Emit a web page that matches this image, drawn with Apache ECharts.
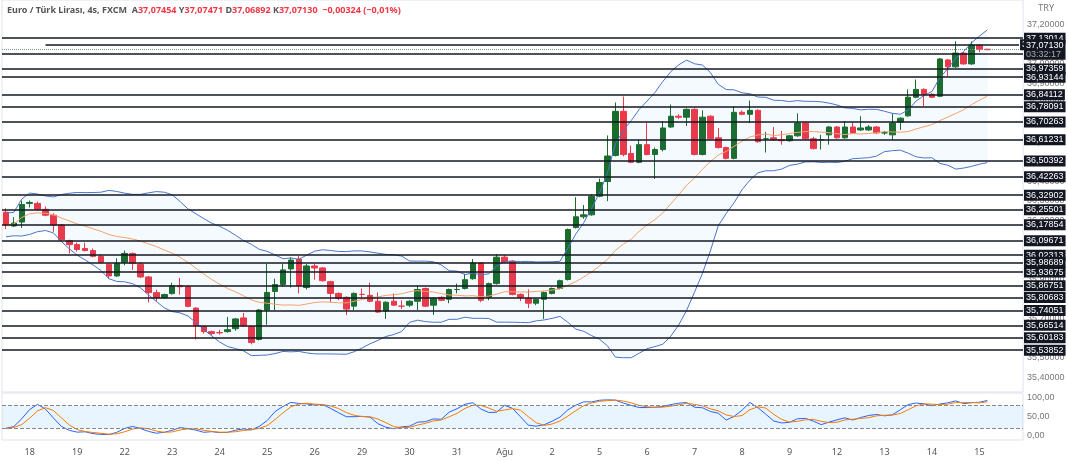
<!DOCTYPE html>
<html>
<head>
<meta charset="utf-8">
<script src="https://cdn.jsdelivr.net/npm/echarts@6/dist/echarts.min.js"></script>
<style>
  html, body { margin: 0; padding: 0; background: #fff; }
  #chart { width: 1068px; height: 461px; }
</style>
</head>
<body>
<div id="chart"></div>
<script>
/* global echarts */

// [open, close, low, high], one per 4h candle
const candles = [
  [36.242, 36.177, 36.157, 36.262], [36.172, 36.187, 36.167, 36.217], [36.192, 36.282, 36.162, 36.302],
  [36.287, 36.292, 36.267, 36.302], [36.287, 36.257, 36.252, 36.297], [36.257, 36.227, 36.222, 36.272],
  [36.227, 36.177, 36.142, 36.237], [36.177, 36.102, 36.097, 36.182], [36.097, 36.077, 36.032, 36.102],
  [36.077, 36.052, 36.042, 36.087], [36.057, 36.047, 36.042, 36.087], [36.047, 36.017, 36.012, 36.057],
  [36.017, 35.987, 35.982, 36.027], [35.977, 35.917, 35.902, 35.982], [35.917, 35.982, 35.912, 36.007],
  [35.987, 36.032, 35.972, 36.047], [36.032, 35.982, 35.947, 36.037], [35.977, 35.912, 35.907, 35.987],
  [35.912, 35.832, 35.782, 35.917], [35.832, 35.807, 35.787, 35.847], [35.807, 35.822, 35.802, 35.827],
  [35.827, 35.867, 35.822, 35.882], [35.867, 35.862, 35.822, 35.907], [35.862, 35.762, 35.757, 35.867],
  [35.753, 35.663, 35.593, 35.758], [35.658, 35.633, 35.623, 35.663], [35.633, 35.623, 35.613, 35.638],
  [35.628, 35.627, 35.618, 35.643], [35.633, 35.643, 35.628, 35.708], [35.648, 35.698, 35.638, 35.703],
  [35.703, 35.663, 35.658, 35.728], [35.658, 35.578, 35.568, 35.663], [35.593, 35.743, 35.588, 35.748],
  [35.743, 35.833, 35.668, 35.978], [35.838, 35.873, 35.743, 35.903], [35.873, 35.948, 35.863, 35.978],
  [35.953, 35.998, 35.858, 36.013], [36.003, 35.868, 35.828, 36.018], [35.858, 35.968, 35.848, 35.978],
  [35.968, 35.958, 35.898, 35.978], [35.958, 35.893, 35.888, 35.963], [35.888, 35.828, 35.783, 35.893],
  [35.828, 35.803, 35.793, 35.833], [35.808, 35.748, 35.718, 35.813], [35.763, 35.828, 35.743, 35.833],
  [35.823, 35.823, 35.803, 35.853], [35.818, 35.788, 35.783, 35.883], [35.788, 35.733, 35.728, 35.833],
  [35.738, 35.783, 35.698, 35.788], [35.788, 35.768, 35.763, 35.828], [35.763, 35.763, 35.748, 35.793],
  [35.768, 35.788, 35.758, 35.793], [35.788, 35.848, 35.743, 35.868], [35.853, 35.763, 35.758, 35.858],
  [35.768, 35.803, 35.718, 35.808], [35.808, 35.793, 35.788, 35.813], [35.798, 35.848, 35.778, 35.853],
  [35.848, 35.848, 35.828, 35.878], [35.853, 35.898, 35.848, 35.928], [35.903, 35.983, 35.898, 36.003],
  [35.983, 35.793, 35.783, 35.988], [35.808, 35.878, 35.793, 35.883], [35.878, 36.013, 35.873, 36.028],
  [36.013, 35.988, 35.983, 36.023], [35.993, 35.823, 35.818, 35.998], [35.823, 35.808, 35.788, 35.828],
  [35.803, 35.778, 35.753, 35.848], [35.778, 35.798, 35.768, 35.803], [35.798, 35.833, 35.698, 35.838],
  [35.828, 35.853, 35.823, 35.858], [35.853, 35.893, 35.848, 35.898], [35.899, 36.154, 35.894, 36.159],
  [36.164, 36.219, 36.159, 36.319], [36.219, 36.229, 36.209, 36.279], [36.229, 36.324, 36.224, 36.334],
  [36.324, 36.394, 36.319, 36.414], [36.399, 36.529, 36.299, 36.634], [36.532, 36.757, 36.527, 36.802],
  [36.757, 36.537, 36.527, 36.832], [36.542, 36.497, 36.492, 36.582], [36.497, 36.587, 36.492, 36.612],
  [36.587, 36.537, 36.532, 36.697], [36.537, 36.562, 36.412, 36.572], [36.562, 36.672, 36.552, 36.707],
  [36.677, 36.732, 36.672, 36.792], [36.732, 36.727, 36.717, 36.742], [36.727, 36.767, 36.682, 36.772],
  [36.767, 36.537, 36.532, 36.772], [36.537, 36.727, 36.532, 36.762], [36.732, 36.617, 36.612, 36.737],
  [36.622, 36.572, 36.567, 36.672], [36.572, 36.517, 36.512, 36.577], [36.517, 36.752, 36.512, 36.782],
  [36.752, 36.742, 36.737, 36.762], [36.742, 36.762, 36.697, 36.812], [36.762, 36.602, 36.597, 36.767],
  [36.617, 36.617, 36.547, 36.652], [36.622, 36.612, 36.607, 36.677], [36.612, 36.607, 36.587, 36.657],
  [36.607, 36.632, 36.602, 36.637], [36.632, 36.697, 36.627, 36.747], [36.697, 36.617, 36.612, 36.702],
  [36.617, 36.567, 36.562, 36.627], [36.612, 36.612, 36.562, 36.637], [36.637, 36.677, 36.587, 36.682],
  [36.677, 36.622, 36.617, 36.682], [36.622, 36.677, 36.617, 36.707], [36.677, 36.647, 36.642, 36.702],
  [36.662, 36.672, 36.657, 36.732], [36.662, 36.677, 36.657, 36.687], [36.677, 36.647, 36.642, 36.682],
  [36.647, 36.647, 36.637, 36.657], [36.637, 36.697, 36.612, 36.747], [36.702, 36.722, 36.662, 36.727],
  [36.734, 36.829, 36.729, 36.869], [36.829, 36.869, 36.824, 36.919], [36.869, 36.844, 36.784, 36.874],
  [36.844, 36.829, 36.824, 36.849], [36.834, 37.024, 36.829, 37.029], [37.019, 36.984, 36.934, 37.024],
  [36.984, 37.054, 36.979, 37.114], [37.054, 36.999, 36.994, 37.059], [36.999, 37.094, 36.994, 37.114],
  [37.094, 37.074, 37.059, 37.099], [37.074, 37.0713, 37.069, 37.075],
];

// day labels, first one on candle index 3, then every 6 candles
const dayLabels = ['18', '19', '22', '23', '24', '25', '26', '29', '30', '31', 'Ağu', '2', '5', '6', '7', '8', '9', '12', '13', '14', '15'];
const levels = [37.13014, 37.05110, 36.97359, 36.93144, 36.84112, 36.78091, 36.70263, 36.61231,
  36.50392, 36.42263, 36.32902, 36.25501, 36.17854, 36.09671, 36.02313, 35.98689, 35.93675,
  35.86751, 35.80683, 35.74051, 35.66514, 35.60183, 35.53852];
const shortLevel = 37.09703;
const lastPrice = 37.07130;
const priceTicks = [35.4, 35.5, 35.6, 35.7, 35.8, 35.9, 36.0, 36.1, 36.2, 36.3, 36.4, 36.5, 36.6, 36.7, 36.8, 36.9, 37.0, 37.1, 37.2];
const padCount = 4;

const n = candles.length;
const categories = [];
for (let i = 0; i < n + padCount; i += 1) {
  const k = i - 3;
  categories.push(k >= 0 && k % 6 === 0 && k / 6 < dayLabels.length ? dayLabels[k / 6] : '');
}
const closes = candles.map((c) => c[1]);

// bollinger 20, 2
const mid = []; const upper = []; const lower = [];
closes.forEach((c, i) => {
  const win = closes.slice(Math.max(0, i - 19), i + 1);
  const m = win.reduce((a, b) => a + b, 0) / win.length;
  const sd = Math.sqrt(win.reduce((a, b) => a + (b - m) ** 2, 0) / win.length);
  const w = Math.max(sd, 0.03);
  mid.push(m); upper.push(m + 2 * w); lower.push(m - 2 * w);
});
const bandWidth = upper.map((u, i) => u - lower[i]);

// stochastic 14,3,3
const rawK = candles.map((c, i) => {
  const win = candles.slice(Math.max(0, i - 13), i + 1);
  const hi = Math.max(...win.map((x) => x[3]));
  const lo = Math.min(...win.map((x) => x[2]));
  return hi === lo ? 50 : ((c[1] - lo) / (hi - lo)) * 100;
});
const sma = (arr, p) => arr.map((v, i) => {
  const w = arr.slice(Math.max(0, i - p + 1), i + 1);
  return w.reduce((a, b) => a + b, 0) / w.length;
});
const stochK = sma(rawK, 3);
const stochD = sma(stochK, 3);

const fmt = (v) => Number(v).toFixed(5).replace('.', ',');
const boxLabel = {
  show: true, position: 'end', color: '#fff',
  backgroundColor: '#131722', padding: [1, 2], fontSize: 9, fontFamily: 'Liberation Sans', distance: 1,
};

const myChart = echarts.init(document.getElementById('chart'));
const option = {
  animation: false,
  title: {
    left: 2, top: 1,
    text: '{g|Euro / Türk Lirası, 4s, FXCM  A}{r|37,07454}{g| Y}{r|37,07471}{g| D}{r|37,06892}{g| K}{r|37,07130  −0,00324 (−0,01%)}',
    textStyle: {
      rich: {
        g: { color: '#555', fontSize: 9, fontFamily: 'Noto Sans' },
        r: { color: '#f23645', fontSize: 9, fontFamily: 'Noto Sans' },
      },
    },
  },
  graphic: [{ type: 'text', right: 14, top: 4, style: { text: 'TRY', fill: '#777', fontSize: 9, fontFamily: 'Noto Sans' } }],
  grid: [
    { left: 2, right: 45, top: 0, height: 392, show: true, borderColor: '#e0e3eb', borderWidth: 1 },
    { left: 2, right: 45, top: 393, height: 47, show: true, borderColor: '#e0e3eb', borderWidth: 1 },
  ],
  xAxis: [
    { type: 'category', data: categories, gridIndex: 0, axisLabel: { show: false }, axisTick: { show: false }, axisLine: { show: false } },
    {
      type: 'category', data: categories, gridIndex: 1,
      axisLine: { show: false }, axisTick: { show: false },
      axisLabel: { interval: 0, color: '#555', fontSize: 9, fontFamily: 'Noto Sans', margin: 8 },
    },
  ],
  yAxis: [
    {
      type: 'value', gridIndex: 0, position: 'right', min: 35.325, max: 37.325, splitLine: { show: false },
      axisLine: { show: false }, axisTick: { show: false },
      axisLabel: { customValues: priceTicks, formatter: fmt, color: '#777', fontSize: 9, fontFamily: 'Liberation Sans', margin: 4 },
    },
    {
      type: 'value', gridIndex: 1, position: 'right', min: -12, max: 113, splitLine: { show: false },
      axisLine: { show: false }, axisTick: { show: false },
      axisLabel: { customValues: [0, 50, 100], formatter: (v) => v.toFixed(2).replace('.', ','), color: '#777', fontSize: 9, fontFamily: 'Liberation Sans', margin: 4 },
    },
  ],
  series: [
    {
      type: 'line', data: lower, stack: 'bb', symbol: 'none', silent: true, lineStyle: { width: 0 },
    },
    {
      type: 'line', data: bandWidth, stack: 'bb', symbol: 'none', silent: true, lineStyle: { width: 0 },
      areaStyle: { color: 'rgba(33,150,243,0.07)' },
    },
    { type: 'line', data: upper, symbol: 'none', lineStyle: { color: '#4a74c9', width: 1 } },
    { type: 'line', data: lower, symbol: 'none', lineStyle: { color: '#4a74c9', width: 1 } },
    { type: 'line', data: mid, symbol: 'none', lineStyle: { color: '#f2a36b', width: 1 } },
    {
      type: 'candlestick', data: candles, barWidth: 6,
      itemStyle: { color: '#1b6b2a', color0: '#f23645', borderColor: '#1b6b2a', borderColor0: '#f23645', borderWidth: 1 },
      markLine: {
        symbol: 'none', silent: true, animation: false, precision: 5,
        lineStyle: { color: '#131722', width: 1.5, type: 'solid' },
        label: boxLabel,
        data: [
          ...levels.map((v) => ({ yAxis: v, label: { ...boxLabel, formatter: fmt(v) } })),
          [{ coord: [5, shortLevel] }, { coord: [n + padCount - 1, shortLevel], label: { ...boxLabel, formatter: fmt(shortLevel) } }],
          {
            yAxis: lastPrice, lineStyle: { color: '#888', width: 1, type: 'dotted' },
            label: {
              ...boxLabel, formatter: `{a|${fmt(lastPrice)}}\n{b|03:32:17}`,
              rich: { a: { color: '#fff', fontSize: 9, fontFamily: 'Liberation Sans' }, b: { color: '#aaa', fontSize: 9, fontFamily: 'Liberation Sans' } },
            },
          },
        ],
      },
    },
    {
      type: 'line', data: stochK, xAxisIndex: 1, yAxisIndex: 1, symbol: 'none', lineStyle: { color: '#2962ff', width: 1 },
      markArea: { silent: true, itemStyle: { color: 'rgba(33,150,243,0.1)' }, data: [[{ yAxis: 20 }, { yAxis: 80 }]] },
      markLine: {
        symbol: 'none', silent: true, label: { show: false },
        lineStyle: { color: '#888', type: 'dashed', width: 1 },
        data: [{ yAxis: 80 }, { yAxis: 20 }],
      },
    },
    { type: 'line', data: stochD, xAxisIndex: 1, yAxisIndex: 1, symbol: 'none', lineStyle: { color: '#f57c00', width: 1 } },
  ],
};
myChart.setOption(option);
</script>
</body>
</html>
